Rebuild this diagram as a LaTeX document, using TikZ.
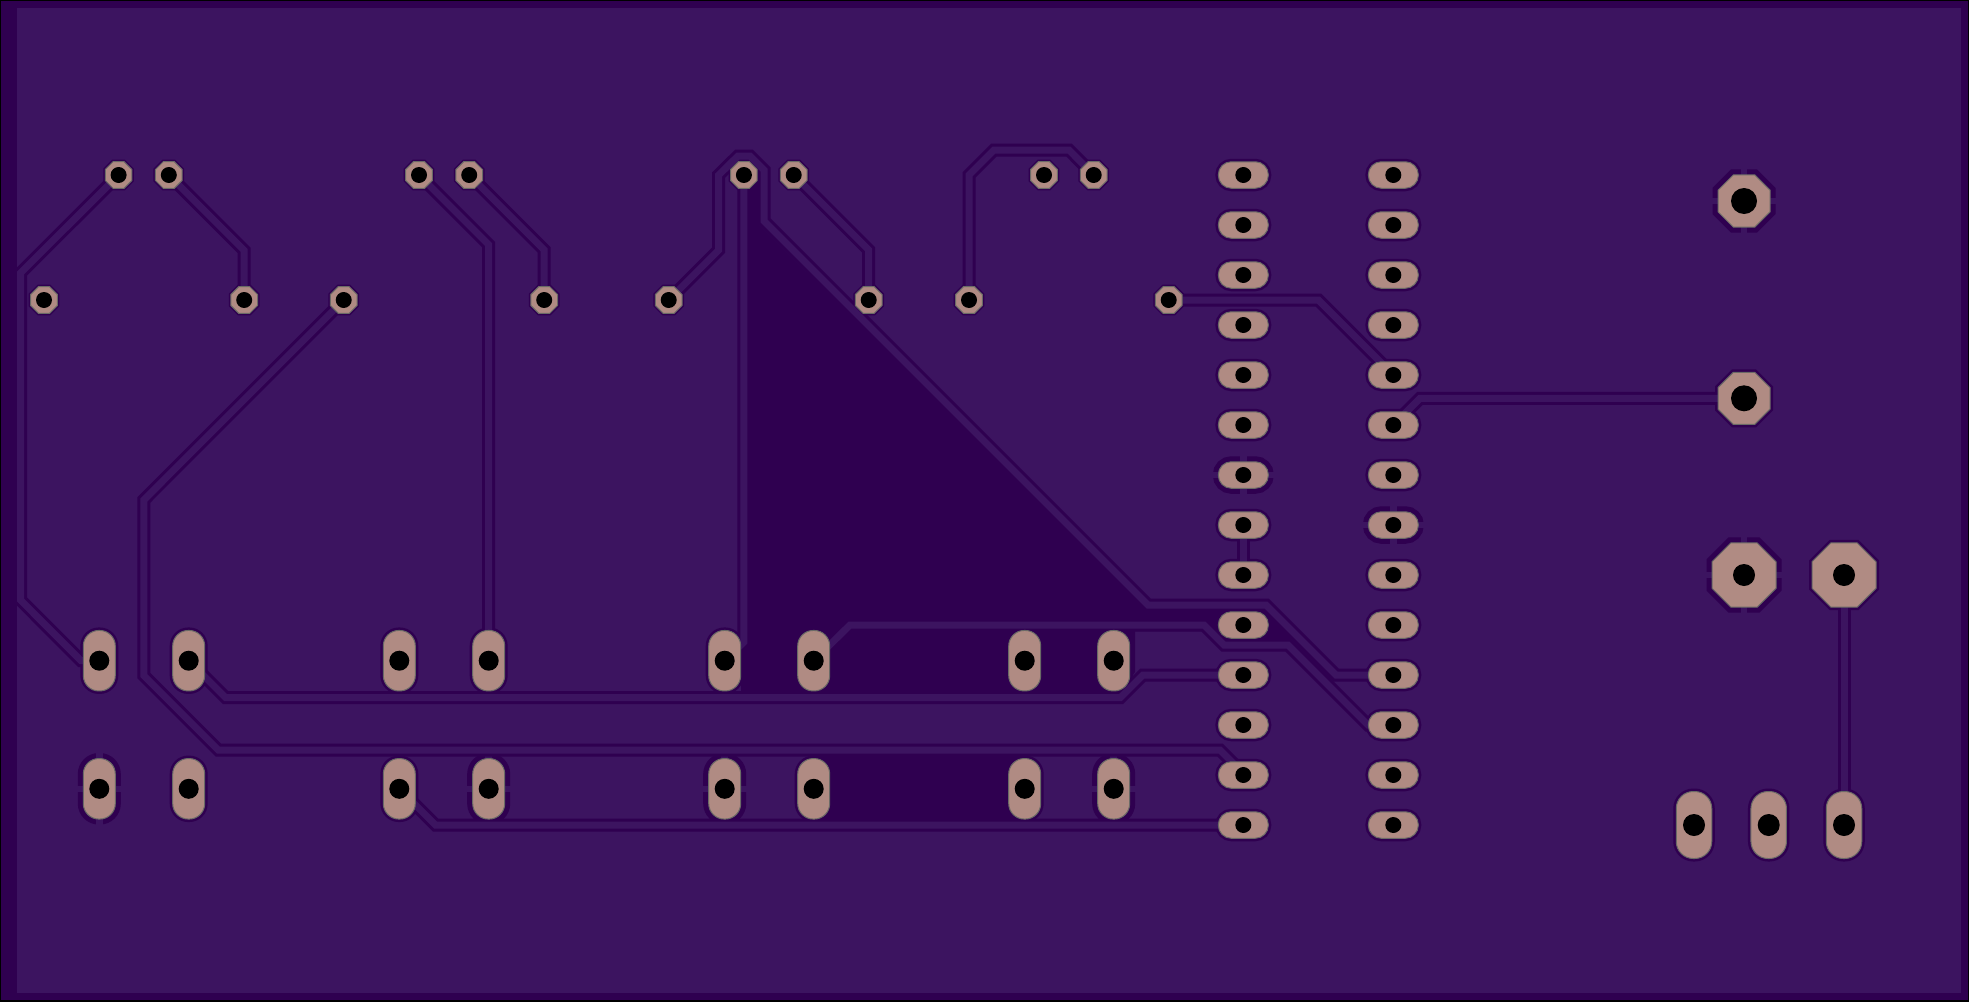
\documentclass[tikz,border=0pt]{standalone}
\usetikzlibrary{shapes.geometric, calc}
\definecolor{pcbbg}{HTML}{3C1460}
\definecolor{pcbdark}{HTML}{2F0050}
\definecolor{pcbpad}{HTML}{B08B83}
\definecolor{pcbedge}{HTML}{6A6A66}
\pgfdeclarelayer{pour}
\pgfdeclarelayer{copper}
\pgfsetlayers{pour,copper,main}
\tikzset{
  x=1pt, y=-1pt,
  pad/.style={fill=pcbpad, draw=pcbedge, line width=1pt},
  halo/.style={fill=pcbdark, draw=pcbdark, line width=6pt},
  thalo/.style={fill=pcbdark, draw=pcbdark, line width=11pt},
  hole/.style={path picture={\fill[black] (path picture bounding box.center) circle[radius=#1];}},
  octa/.style={regular polygon, regular polygon sides=8, inner sep=0pt, outer sep=0pt, minimum size=#1},
  oval/.style n args={3}{rectangle, inner sep=0pt, outer sep=0pt, minimum width=#1, minimum height=#2, rounded corners=#3},
  via/.style={octa=28.8pt},
  dip/.style={oval={50pt}{26.5pt}{13pt}},
  sw/.style={oval={32pt}{60.5pt}{15.5pt}},
  scr/.style={oval={35.5pt}{67pt}{17pt}},
  trace/.style={draw=pcbdark, line width=3pt, double=pcbbg, double distance=7pt, line join=miter},
  spoke/.style={draw=pcbbg, line width=6.5pt}
}
\newcommand{\thermal}[1]{\draw[spoke] ($(#1.north)+(0,-8)$) -- ($(#1.south)+(0,8)$) ($(#1.west)+(-8,0)$) -- ($(#1.east)+(8,0)$);}
\begin{document}
\begin{tikzpicture}
\useasboundingbox (0,0) rectangle (1969,1001);
% pads
\foreach \n/\x in {va/118.6,vb/168.8,vc/419,vd/469.2,ve/743.9,vf/793.7,vg/1044,vh/1093.7}
  \node[via,pad,hole=8pt] (\n) at (\x,175) {};
\foreach \n/\x in {wa/44,wb/244.2,wc/343.7,wd/544.2,we/668.7,wf/868.7,wg/969,wh/1168.7}
  \node[via,pad,hole=8pt] (\n) at (\x,300) {};
\foreach \i in {1,...,14} {
  \node[dip,pad,hole=8pt] (a\i) at (1243.3,125+50*\i) {};
  \node[dip,pad,hole=8pt] (b\i) at (1393.3,125+50*\i) {};
}
\foreach \i/\x in {1/99.3,2/188.7,3/399.3,4/488.7,5/724.7,6/813.7,7/1024.7,8/1113.7} {
  \node[sw,pad,hole=10pt] (t\i) at (\x,660.7) {};
  \node[sw,pad,hole=10pt] (l\i) at (\x,788.8) {};
}
\node[octa=56.3pt,pad,hole=13pt] (octa) at (1744,201) {};
\node[octa=56.3pt,pad,hole=13pt] (octb) at (1744,398.3) {};
\node[octa=69.3pt,pad,hole=11pt] (octc) at (1744,575) {};
\node[octa=69.3pt,pad,hole=11pt] (octd) at (1844,575) {};
\foreach \i/\x in {1/1694,2/1768.7,3/1844}
  \node[scr,pad,hole=11pt] (s\i) at (\x,825) {};
% clearance and tracks
\begin{pgfonlayer}{copper}
\foreach \n in {va,vb,vc,vd,ve,vf,vg,vh,wa,wb,wc,wd,we,wf,wg,wh}
  \node[via,halo,line width=4pt] (h\n) at (\n) {};
\foreach \i in {1,...,14} {
  \node[dip,halo] (ha\i) at (a\i) {};
  \node[dip,halo] (hb\i) at (b\i) {};
}
\foreach \i in {1,...,8} {
  \node[sw,halo] (ht\i) at (t\i) {};
  \node[sw,halo] (hl\i) at (l\i) {};
}
\foreach \i in {1,2,3} \node[scr,halo] (hs\i) at (s\i) {};
\node[octa=56.3pt,halo] (hoctb) at (octb) {};
\node[octa=69.3pt,halo] (hoctd) at (octd) {};
% thermal reliefs
\foreach \n in {a7,b8} {\node[dip,thalo] (th\n) at (\n) {}; \thermal{\n}}
\foreach \n in {l1,l4,l5,l8} {\node[sw,thalo] (th\n) at (\n) {}; \thermal{\n}}
\node[octa=56.3pt,thalo] (thocta) at (octa) {}; \thermal{octa}
\node[octa=69.3pt,thalo] (thoctc) at (octc) {}; \thermal{octc}
% tracks
\draw[trace] (va.center) -- (20.5,273) -- (20.5,600) -- (81,660.7) -- (t1.center);
\draw[trace] (vb.center) -- (244.2,250.4) -- (wb.center);
\draw[trace] (wc.center) -- (143.8,500) -- (143.8,675.5) -- (218.3,750) -- (1220,750) -- (1245,775) -- (a13.center);
\draw[trace] (vc.center) -- (488.7,244.7) -- (t4.center);
\draw[trace] (vd.center) -- (544.2,250) -- (wd.center);
\draw[trace] (we.center) -- (718.7,250) -- (718.7,175) -- (738,156) -- (750,156) -- (764,170) -- (764,221) -- (1148,605) -- (1266,605) -- (1336,675) -- (b11.center);
\draw[trace] (ve.center) -- (743.9,642) -- (t5.center);
\draw[trace] (vf.center) -- (868.7,250) -- (wf.center);
\draw[trace] (wg.center) -- (969,175) -- (994,150) -- (1069,150) -- (vh.center);
\draw[trace] (wh.center) -- (1318.3,300) -- (b5.center);
\draw[trace] (b6.center) -- (1420,398.3) -- (octb.center);
\draw[trace] (a8.center) -- (a9.center);
\draw[trace] (t6.center) -- (850,625) -- (1204,625) -- (1224,645) -- (1288,645) -- (1368,725) -- (b12.center);
\draw[trace] (t2.center) -- (225.5,697.5) -- (1120.5,697.5) -- (1143,675) -- (a11.center);
\draw[trace] (l3.center) -- (435.5,825) -- (a14.center);
\draw[trace] (octd.center) -- (s3.center);
\end{pgfonlayer}
% board and pour
\begin{pgfonlayer}{pour}
\fill[pcbdark] (0,0) rectangle (1969,1001);
\fill[pcbbg] (17,8) rectangle (1961,993);
\draw[black, line width=2pt] (0,0) rectangle (1969,1001);
\fill[pcbdark] (749,170) -- (759,170) -- (759,225) -- (1147,611) -- (1264,611) -- (1293,639) -- (1225,639) -- (1206,620) -- (1206,631) -- (1135,631) -- (1135,672) -- (1122,692) -- (741,692) -- (741,648) -- (749,640) -- cycle;
\fill[pcbdark] (814,752) rectangle (1024,820);
\end{pgfonlayer}
\end{tikzpicture}
\end{document}
